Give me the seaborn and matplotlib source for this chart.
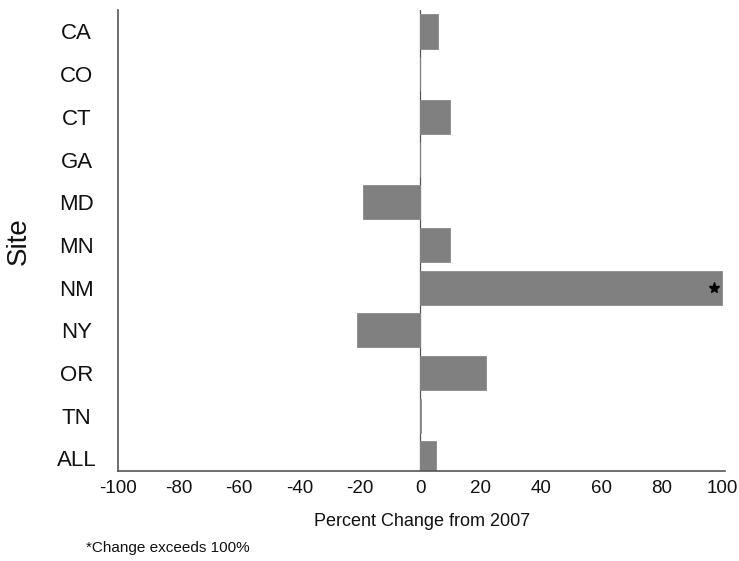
import matplotlib
matplotlib.use("Agg")
import matplotlib.pyplot as plt
import seaborn as sns
import pandas as pd

sites = ['CA', 'CO', 'CT', 'GA', 'MD', 'MN', 'NM', 'NY', 'OR', 'TN', 'ALL']
pct_change = [6, 0, 10, 0, -19, 10, 100, -21, 22, 0.4, 5.3]
exceeds = ['NM']  # change > 100%, bar capped at 100

df = pd.DataFrame({'Site': sites, 'Change': pct_change})

sns.set_style('white')
plt.rcParams['font.family'] = ['Liberation Sans', 'DejaVu Sans']
plt.rcParams['axes.unicode_minus'] = False
plt.rcParams['text.color'] = '#111111'
plt.rcParams['axes.labelcolor'] = '#111111'
plt.rcParams['xtick.color'] = '#111111'
plt.rcParams['ytick.color'] = '#111111'

fig = plt.figure(figsize=(7.39, 5.61), dpi=100)
ax = fig.add_axes([0.16, 0.16, 0.821, 0.822])

sns.barplot(data=df, x='Change', y='Site', orient='h', color='#808080',
            saturation=1, width=0.8, ax=ax)
for p in ax.patches:
    p.set_edgecolor('#8a8a8a')
    p.set_linewidth(0.6)

ax.axvline(0, color='#555555', lw=0.9, zorder=0)

for s in exceeds:
    i = sites.index(s)
    ax.plot(pct_change[i] - 2.5, i, marker='*', color='black', ms=8)

ax.set_xlim(-100, 101)
ax.set_ylim(10.3, -0.5)
ax.set_xticks(range(-100, 101, 20))
ax.tick_params(axis='both', length=0)
ax.tick_params(axis='y', labelsize=16, pad=30)
ax.tick_params(axis='x', labelsize=13.5, pad=6)
for lab in ax.get_yticklabels():
    lab.set_horizontalalignment('center')

ax.set_xlabel('Percent Change from 2007', fontsize=13, labelpad=12)
ax.set_ylabel('Site', fontsize=20)
ax.yaxis.set_label_coords(-0.142, 0.5)

sns.despine(ax=ax)
for side in ['left', 'bottom']:
    ax.spines[side].set_color('#555555')
    ax.spines[side].set_linewidth(1.2)

fig.text(0.117, 0.016, '*Change exceeds 100%', fontsize=11)

fig.savefig('out.png', dpi=100)
